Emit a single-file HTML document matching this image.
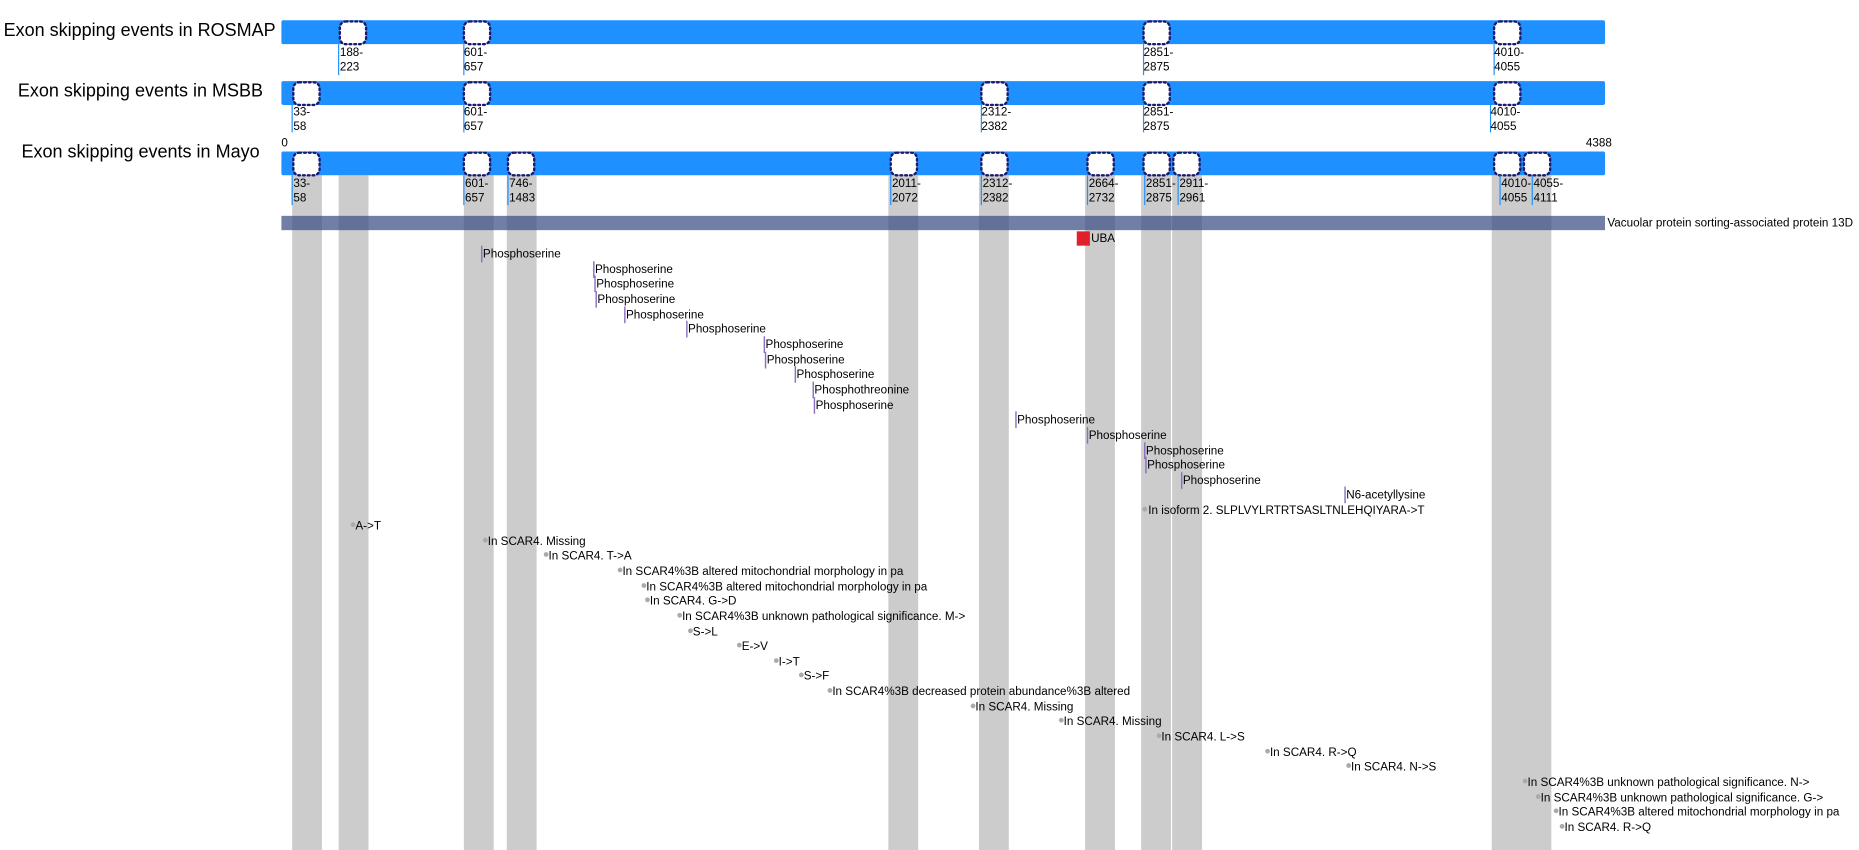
<!DOCTYPE html>
<html><head><meta charset="utf-8"><style>
html,body{margin:0;padding:0;background:#fff;}
svg{display:block;}
text{font-family:"Liberation Sans",Arial,sans-serif;fill:#000;}
.s{font-size:9.8px;}
.t{font-size:15.1px;}
</style></head><body>
<svg width="1859" height="850" viewBox="0 0 1559 712.8" xmlns="http://www.w3.org/2000/svg">
<g fill="#cccccc">
<rect x="245" y="147" width="25" height="570"/>
<rect x="284" y="147" width="25" height="570"/>
<rect x="389" y="147" width="25" height="570"/>
<rect x="425" y="147" width="25" height="570"/>
<rect x="745" y="147" width="25" height="570"/>
<rect x="821" y="147" width="25" height="570"/>
<rect x="910" y="147" width="25" height="570"/>
<rect x="957" y="147" width="25" height="570"/>
<rect x="983" y="147" width="25" height="570"/>
<rect x="1251" y="147" width="25" height="570"/>
<rect x="1276" y="147" width="25" height="570"/>
</g>
<text class="t" x="3" y="30">Exon skipping events in ROSMAP</text>
<text class="t" x="15" y="81">Exon skipping events in MSBB</text>
<text class="t" x="18" y="132">Exon skipping events in Mayo</text>
<g fill="#1e90ff">
<rect x="236" y="17" width="1110" height="20" rx="1.5"/>
<rect x="236" y="68" width="1110" height="20" rx="1.5"/>
<rect x="236" y="127" width="1110" height="20" rx="1.5"/>
</g>
<text class="s" x="236" y="123">0</text>
<text class="s" x="1330" y="123">4388</text>
<g fill="#fff" stroke="#1a1a6e" stroke-width="2" stroke-dasharray="1.5,2.5" stroke-linecap="round">
<rect x="285" y="18" width="22" height="19" rx="5"/>
<rect x="389" y="18" width="22" height="19" rx="5"/>
<rect x="959" y="18" width="22" height="19" rx="5"/>
<rect x="1253" y="18" width="22" height="19" rx="5"/>
<rect x="246" y="69" width="22" height="19" rx="5"/>
<rect x="389" y="69" width="22" height="19" rx="5"/>
<rect x="823" y="69" width="22" height="19" rx="5"/>
<rect x="959" y="69" width="22" height="19" rx="5"/>
<rect x="1253" y="69" width="22" height="19" rx="5"/>
<rect x="246" y="128" width="22" height="19" rx="5"/>
<rect x="389" y="128" width="22" height="19" rx="5"/>
<rect x="426" y="128" width="22" height="19" rx="5"/>
<rect x="747" y="128" width="22" height="19" rx="5"/>
<rect x="823" y="128" width="22" height="19" rx="5"/>
<rect x="912" y="128" width="22" height="19" rx="5"/>
<rect x="959" y="128" width="22" height="19" rx="5"/>
<rect x="984" y="128" width="22" height="19" rx="5"/>
<rect x="1253" y="128" width="22" height="19" rx="5"/>
<rect x="1278" y="128" width="22" height="19" rx="5"/>
</g>
<g stroke="#1e90ff" stroke-width="1">
<line x1="284" y1="37" x2="284" y2="63"/><line x1="389" y1="37" x2="389" y2="63"/><line x1="959" y1="37" x2="959" y2="63"/><line x1="1253" y1="37" x2="1253" y2="63"/>
<line x1="245" y1="88" x2="245" y2="111"/><line x1="389" y1="88" x2="389" y2="111"/><line x1="823" y1="88" x2="823" y2="111"/><line x1="959" y1="88" x2="959" y2="111"/><line x1="1250" y1="88" x2="1250" y2="111"/>
<line x1="245" y1="147" x2="245" y2="172"/><line x1="389" y1="147" x2="389" y2="172"/><line x1="426" y1="147" x2="426" y2="172"/><line x1="747" y1="147" x2="747" y2="172"/><line x1="823" y1="147" x2="823" y2="172"/><line x1="912" y1="147" x2="912" y2="172"/><line x1="960" y1="147" x2="960" y2="172"/><line x1="988" y1="147" x2="988" y2="172"/><line x1="1258" y1="147" x2="1258" y2="172"/><line x1="1285" y1="147" x2="1285" y2="172"/>
</g>
<g>
<text class="s" x="285" y="47">188-</text><text class="s" x="285" y="59">223</text>
<text class="s" x="389" y="47">601-</text><text class="s" x="389" y="59">657</text>
<text class="s" x="959" y="47">2851-</text><text class="s" x="959" y="59">2875</text>
<text class="s" x="1253" y="47">4010-</text><text class="s" x="1253" y="59">4055</text>
<text class="s" x="246" y="97">33-</text><text class="s" x="246" y="109">58</text>
<text class="s" x="389" y="97">601-</text><text class="s" x="389" y="109">657</text>
<text class="s" x="823" y="97">2312-</text><text class="s" x="823" y="109">2382</text>
<text class="s" x="959" y="97">2851-</text><text class="s" x="959" y="109">2875</text>
<text class="s" x="1250" y="97">4010-</text><text class="s" x="1250" y="109">4055</text>
<text class="s" x="246" y="157">33-</text><text class="s" x="246" y="169">58</text>
<text class="s" x="390" y="157">601-</text><text class="s" x="390" y="169">657</text>
<text class="s" x="427" y="157">746-</text><text class="s" x="427" y="169">1483</text>
<text class="s" x="748" y="157">2011-</text><text class="s" x="748" y="169">2072</text>
<text class="s" x="824" y="157">2312-</text><text class="s" x="824" y="169">2382</text>
<text class="s" x="913" y="157">2664-</text><text class="s" x="913" y="169">2732</text>
<text class="s" x="961" y="157">2851-</text><text class="s" x="961" y="169">2875</text>
<text class="s" x="989" y="157">2911-</text><text class="s" x="989" y="169">2961</text>
<text class="s" x="1259" y="157">4010-</text><text class="s" x="1259" y="169">4055</text>
<text class="s" x="1286" y="157">4055-</text><text class="s" x="1286" y="169">4111</text>
</g>
<rect x="236" y="181" width="1110" height="12" fill="#3d4f85" fill-opacity="0.73"/>
<text class="s" x="1348" y="190">Vacuolar protein sorting-associated protein 13D</text>
<rect x="903" y="194" width="11" height="12" fill="#e0202a"/>
<text class="s" x="915" y="203">UBA</text>
<g stroke="#8a70c0" stroke-width="1.2">
<line x1="404" y1="206" x2="404" y2="220"/><line x1="498" y1="219" x2="498" y2="233"/><line x1="499" y1="231" x2="499" y2="245"/><line x1="500" y1="244" x2="500" y2="258"/><line x1="524" y1="257" x2="524" y2="271"/><line x1="576" y1="269" x2="576" y2="283"/><line x1="641" y1="282" x2="641" y2="296"/><line x1="642" y1="295" x2="642" y2="309"/><line x1="667" y1="307" x2="667" y2="321"/><line x1="682" y1="320" x2="682" y2="334"/><line x1="683" y1="333" x2="683" y2="347"/><line x1="852" y1="345" x2="852" y2="359"/><line x1="912" y1="358" x2="912" y2="372"/><line x1="960" y1="371" x2="960" y2="385"/><line x1="961" y1="383" x2="961" y2="397"/><line x1="991" y1="396" x2="991" y2="410"/><line x1="1128" y1="408" x2="1128" y2="422"/>
</g>
<text class="s" x="405" y="216">Phosphoserine</text>
<text class="s" x="499" y="229">Phosphoserine</text>
<text class="s" x="500" y="241">Phosphoserine</text>
<text class="s" x="501" y="254">Phosphoserine</text>
<text class="s" x="525" y="267">Phosphoserine</text>
<text class="s" x="577" y="279">Phosphoserine</text>
<text class="s" x="642" y="292">Phosphoserine</text>
<text class="s" x="643" y="305">Phosphoserine</text>
<text class="s" x="668" y="317">Phosphoserine</text>
<text class="s" x="683" y="330">Phosphothreonine</text>
<text class="s" x="684" y="343">Phosphoserine</text>
<text class="s" x="853" y="355">Phosphoserine</text>
<text class="s" x="913" y="368">Phosphoserine</text>
<text class="s" x="961" y="381">Phosphoserine</text>
<text class="s" x="962" y="393">Phosphoserine</text>
<text class="s" x="992" y="406">Phosphoserine</text>
<text class="s" x="1129" y="418">N6-acetyllysine</text>
<g fill="#aaaaaa">
<circle cx="960" cy="427" r="2"/><circle cx="296" cy="440" r="2"/><circle cx="407" cy="453" r="2"/><circle cx="458" cy="465" r="2"/><circle cx="520" cy="478" r="2"/><circle cx="540" cy="491" r="2"/><circle cx="543" cy="503" r="2"/><circle cx="570" cy="516" r="2"/><circle cx="579" cy="529" r="2"/><circle cx="620" cy="541" r="2"/><circle cx="651" cy="554" r="2"/><circle cx="672" cy="566" r="2"/><circle cx="696" cy="579" r="2"/><circle cx="816" cy="592" r="2"/><circle cx="890" cy="604" r="2"/><circle cx="972" cy="617" r="2"/><circle cx="1063" cy="630" r="2"/><circle cx="1131" cy="642" r="2"/><circle cx="1279" cy="655" r="2"/><circle cx="1290" cy="668" r="2"/><circle cx="1305" cy="680" r="2"/><circle cx="1310" cy="693" r="2"/>
</g>
<text class="s" x="963" y="431">In isoform 2. SLPLVYLRTRTSASLTNLEHQIYARA-&gt;T</text>
<text class="s" x="298" y="444">A-&gt;T</text>
<text class="s" x="409" y="457">In SCAR4. Missing</text>
<text class="s" x="460" y="469">In SCAR4. T-&gt;A</text>
<text class="s" x="522" y="482">In SCAR4%3B altered mitochondrial morphology in pa</text>
<text class="s" x="542" y="495">In SCAR4%3B altered mitochondrial morphology in pa</text>
<text class="s" x="545" y="507">In SCAR4. G-&gt;D</text>
<text class="s" x="572" y="520">In SCAR4%3B unknown pathological significance. M-&gt;</text>
<text class="s" x="581" y="533">S-&gt;L</text>
<text class="s" x="622" y="545">E-&gt;V</text>
<text class="s" x="653" y="558">I-&gt;T</text>
<text class="s" x="674" y="570">S-&gt;F</text>
<text class="s" x="698" y="583">In SCAR4%3B decreased protein abundance%3B altered</text>
<text class="s" x="818" y="596">In SCAR4. Missing</text>
<text class="s" x="892" y="608">In SCAR4. Missing</text>
<text class="s" x="974" y="621">In SCAR4. L-&gt;S</text>
<text class="s" x="1065" y="634">In SCAR4. R-&gt;Q</text>
<text class="s" x="1133" y="646">In SCAR4. N-&gt;S</text>
<text class="s" x="1281" y="659">In SCAR4%3B unknown pathological significance. N-&gt;</text>
<text class="s" x="1292" y="672">In SCAR4%3B unknown pathological significance. G-&gt;</text>
<text class="s" x="1307" y="684">In SCAR4%3B altered mitochondrial morphology in pa</text>
<text class="s" x="1312" y="697">In SCAR4. R-&gt;Q</text>
</svg>
</body></html>
